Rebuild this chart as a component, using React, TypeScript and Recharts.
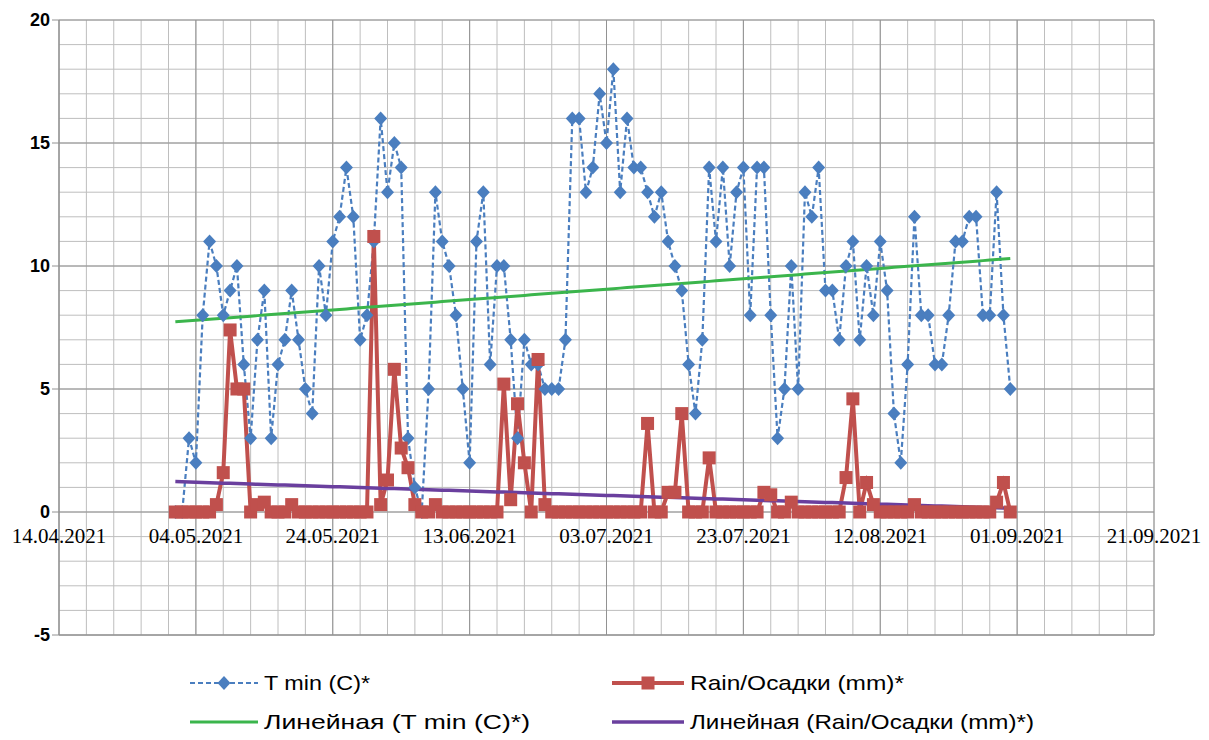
import React from "react";
import { LineChart, Line, XAxis, YAxis, CartesianGrid, ReferenceLine } from "recharts";

// daily values, first point = 01.05.2021 (day 17 counted from 14.04.2021)
const START_DAY = 17;

const tMin = [
  0, 0, 3, 2, 8, 11, 10, 8, 9, 10,
  6, 3, 7, 9, 3, 6, 7, 9, 7, 5,
  4, 10, 8, 11, 12, 14, 12, 7, 8, 11,
  16, 13, 15, 14, 3, 1, 0, 5, 13, 11,
  10, 8, 5, 2, 11, 13, 6, 10, 10, 7,
  3, 7, 6, 6, 5, 5, 5, 7, 16, 16,
  13, 14, 17, 15, 18, 13, 16, 14, 14, 13,
  12, 13, 11, 10, 9, 6, 4, 7, 14, 11,
  14, 10, 13, 14, 8, 14, 14, 8, 3, 5,
  10, 5, 13, 12, 14, 9, 9, 7, 10, 11,
  7, 10, 8, 11, 9, 4, 2, 6, 12, 8,
  8, 6, 6, 8, 11, 11, 12, 12, 8, 8,
  13, 8, 5,
];

const rain = [
  0, 0, 0, 0, 0, 0, 0.3, 1.6, 7.4, 5,
  5, 0, 0.3, 0.4, 0, 0, 0, 0.3, 0, 0,
  0, 0, 0, 0, 0, 0, 0, 0, 0, 11.2,
  0.3, 1.3, 5.8, 2.6, 1.8, 0.3, 0, 0, 0.3, 0,
  0, 0, 0, 0, 0, 0, 0, 0, 5.2, 0.5,
  4.4, 2.0, 0, 6.2, 0.3, 0, 0, 0, 0, 0,
  0, 0, 0, 0, 0, 0, 0, 0, 0, 3.6,
  0, 0, 0.8, 0.8, 4.0, 0, 0, 0, 2.2, 0,
  0, 0, 0, 0, 0, 0, 0.8, 0.7, 0, 0,
  0.4, 0, 0, 0, 0, 0, 0, 0, 1.4, 4.6,
  0, 1.2, 0.3, 0, 0, 0, 0, 0, 0.3, 0,
  0, 0, 0, 0, 0, 0, 0, 0, 0, 0,
  0.4, 1.2, 0,
];

const xLabelDays = [0, 20, 40, 60, 80, 100, 120, 140, 160];
const xLabels = ["14.04.2021", "04.05.2021", "24.05.2021", "13.06.2021", "03.07.2021", "23.07.2021", "12.08.2021", "01.09.2021", "21.09.2021"];
const yLabels = [-5, 0, 5, 10, 15, 20];

const legendNames = ["T min (C)*", "Rain/Осадки (mm)*", "Линейная (T min (C)*)", "Линейная (Rain/Осадки (mm)*)"];

const BLUE = "#4A7EBF";
const RED = "#C0504D";
const GREEN = "#3BB54C";
const PURPLE = "#6A3F9E";
const MINOR = "#bebebe";
const MAJOR = "#929292";

const W = 1209;
const H = 740;
const TOP = 20;
const PLOT_BOTTOM = 635;
const ZERO_UP = ((PLOT_BOTTOM - TOP) * 5) / 25; // distance of the 0 line above the plot bottom

// Excel style linear trend (least squares)
function trend(values: number[]) {
  const n = values.length;
  const mx = (n - 1) / 2;
  const my = values.reduce((s, v) => s + v, 0) / n;
  let sxy = 0;
  let sxx = 0;
  values.forEach((v, i) => {
    sxy += (i - mx) * (v - my);
    sxx += (i - mx) * (i - mx);
  });
  const k = sxy / sxx;
  return values.map((_, i) => my + k * (i - mx));
}

const tTrend = trend(tMin);
const rTrend = trend(rain);

const data = tMin.map((t, i) => ({
  day: START_DAY + i,
  t,
  r: rain[i],
  tt: tTrend[i],
  rt: rTrend[i],
}));

const minorDays: number[] = [];
for (let d = 0; d <= 160; d += 4) minorDays.push(d);
const minorY: number[] = [];
for (let v = -5; v <= 20; v += 1) minorY.push(v);

const diamond = (p: any) => (
  <path
    key={`d-${p.index}`}
    d={`M${p.cx},${p.cy - 7}L${p.cx + 6.5},${p.cy}L${p.cx},${p.cy + 7}L${p.cx - 6.5},${p.cy}Z`}
    fill={BLUE}
  />
);

const square = (p: any) => (
  <rect key={`s-${p.index}`} x={p.cx - 6.5} y={p.cy - 6.5} width={13} height={13} fill={RED} />
);

const XTick = (props: any) => {
  const { x, y, payload } = props;
  const idx = xLabelDays.indexOf(payload.value);
  if (idx < 0) return <g />;
  return (
    <text
      x={x}
      y={y - ZERO_UP + 31}
      textAnchor="middle"
      fontFamily="'Liberation Serif', 'Times New Roman', serif"
      fontSize={21}
      fill="#000"
    >
      {xLabels[idx]}
    </text>
  );
};

const YTick = (props: any) => {
  const { x, y, payload } = props;
  if (!yLabels.includes(payload.value)) return <g />;
  return (
    <g>
      <line x1={x - 7} x2={x} y1={y} y2={y} stroke={MAJOR} />
      <text
        x={x - 9}
        y={y + 6}
        textAnchor="end"
        fontFamily="'Liberation Sans', Arial, sans-serif"
        fontWeight="bold"
        fontSize={18}
        fill="#000"
      >
        {payload.value}
      </text>
    </g>
  );
};

function Legend() {
  const font = "'Liberation Sans', Arial, sans-serif";
  const rows = [683, 722];
  const txt = (i: number, x: number, y: number, len: number) => (
    <text x={x} y={y + 7} fontFamily={font} fontSize={21} fill="#000" textLength={len} lengthAdjust="spacingAndGlyphs">
      {legendNames[i]}
    </text>
  );
  return (
    <svg width={W} height={H} style={{ position: "absolute", left: 0, top: 0, pointerEvents: "none" }}>
      <line x1={190} x2={258} y1={rows[0]} y2={rows[0]} stroke={BLUE} strokeWidth={2} strokeDasharray="5 3" />
      <path d={`M224,${rows[0] - 7}L230.5,${rows[0]}L224,${rows[0] + 7}L217.5,${rows[0]}Z`} fill={BLUE} />
      {txt(0, 264, rows[0], 106)}

      <line x1={612} x2={684} y1={rows[0]} y2={rows[0]} stroke={RED} strokeWidth={4} />
      <rect x={641.5} y={rows[0] - 6.5} width={13} height={13} fill={RED} />
      {txt(1, 690, rows[0], 214)}

      <line x1={190} x2={258} y1={rows[1]} y2={rows[1]} stroke={GREEN} strokeWidth={3} />
      {txt(2, 264, rows[1], 266)}

      <line x1={612} x2={684} y1={rows[1]} y2={rows[1]} stroke={PURPLE} strokeWidth={3.5} />
      {txt(3, 690, rows[1], 344)}
    </svg>
  );
}

export default function App() {
  return (
    <div style={{ position: "relative", width: W, height: H, background: "#fff" }}>
      <style>{"body{margin:0}"}</style>
      <LineChart width={W} height={H} data={data} margin={{ top: TOP, right: 55, bottom: H - PLOT_BOTTOM - 1, left: 0 }}>
        <CartesianGrid stroke={MINOR} />
        {xLabelDays.map((d) => (
          <ReferenceLine key={`vx-${d}`} x={d} stroke={MAJOR} />
        ))}
        {yLabels.map((v) => (
          <ReferenceLine key={`hy-${v}`} y={v} stroke={MAJOR} />
        ))}
        <XAxis
          type="number"
          dataKey="day"
          domain={[0, 160]}
          ticks={minorDays}
          interval={0}
          height={1}
          tickSize={0}
          tickMargin={0}
          axisLine={{ stroke: MAJOR }}
          tickLine={false}
          tick={<XTick />}
        />
        <YAxis
          type="number"
          domain={[-5, 20]}
          ticks={minorY}
          interval={0}
          width={59}
          tickSize={0}
          tickMargin={0}
          axisLine={{ stroke: MAJOR }}
          tickLine={false}
          tick={<YTick />}
        />
        <Line
          type="linear"
          dataKey="t"
          stroke={BLUE}
          strokeWidth={2.2}
          strokeDasharray="5 3"
          dot={diamond}
          activeDot={false}
          isAnimationActive={false}
        />
        <Line
          type="linear"
          dataKey="r"
          stroke={RED}
          strokeWidth={4}
          dot={square}
          activeDot={false}
          isAnimationActive={false}
        />
        <Line type="linear" dataKey="tt" stroke={GREEN} strokeWidth={3} dot={false} activeDot={false} isAnimationActive={false} />
        <Line type="linear" dataKey="rt" stroke={PURPLE} strokeWidth={3.5} dot={false} activeDot={false} isAnimationActive={false} />
      </LineChart>
      <Legend />
    </div>
  );
}
